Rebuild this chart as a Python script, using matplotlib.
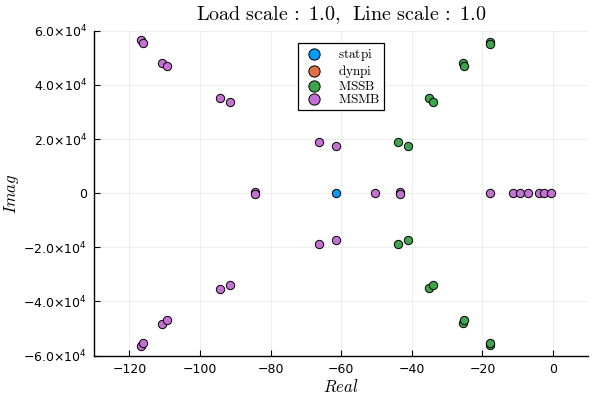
import matplotlib
matplotlib.use("Agg")
import matplotlib.pyplot as plt
from matplotlib.font_manager import FontProperties

# ---- data ----
statpi_re = [-61.5]
statpi_im = [0.0]
dynpi_re = []
dynpi_im = []
mssb_re = [-17.8, -17.8, -25.5, -25.1, -35.0, -34.1, -43.8, -41.0,
           -17.8, -17.8, -25.5, -25.1, -35.0, -34.1, -43.8, -41.0]
mssb_im = [55900, 55200, 47950, 46850, 35100, 33800, 18800, 17450,
           -55900, -55200, -47950, -46850, -35100, -33800, -18800, -17450]
msmb_re = [-116.8, -116.2, -110.8, -109.5, -94.3, -91.5, -66.2, -61.4,
           -116.8, -116.2, -110.8, -109.5, -94.3, -91.5, -66.2, -61.4,
           -84.5, -84.5, -50.4, -43.3, -43.3, -17.8, -11.4, -9.3, -7.2, -3.9, -2.5, -0.6]
msmb_im = [56500, 55400, 48200, 47000, 35300, 33800, 18900, 17450,
           -56500, -55400, -48200, -47000, -35300, -33800, -18900, -17450,
           400, -400, 0, 400, -400, 0, 0, 0, 0, 0, 0, 0]

series_labels = ["statpi", "dynpi", "MSSB", "MSMB"]
series_colors = ["#009AFA", "#E36F47", "#3EA44E", "#C371D2"]

xticks = [-120, -100, -80, -60, -40, -20, 0]
yticks = [-60000, -40000, -20000, 0, 20000, 40000, 60000]
ytick_labels = [r"$-6.0{\times}10^{4}$", r"$-4.0{\times}10^{4}$", r"$-2.0{\times}10^{4}$", "0",
                r"$2.0{\times}10^{4}$", r"$4.0{\times}10^{4}$", r"$6.0{\times}10^{4}$"]

plt.rcParams["mathtext.fontset"] = "dejavusans"
plt.rcParams["axes.unicode_minus"] = True

fig = plt.figure(figsize=(6, 4), dpi=100)
ax = fig.add_axes([0.157, 0.111, 0.8235, 0.812])

data = [(statpi_re, statpi_im), (dynpi_re, dynpi_im), (mssb_re, mssb_im), (msmb_re, msmb_im)]
for (re, im), lab, col in zip(data, series_labels, series_colors):
    ax.scatter(re, im, s=36, c=col, edgecolors="black", linewidths=0.7,
               label=r"$\mathrm{" + lab + "}$", zorder=3)

ax.set_xlim(-130, 10)
ax.set_ylim(-60000, 60000)
ax.set_xticks(xticks)
ax.set_xticklabels([("\u2212" + str(abs(v))) if v < 0 else str(v) for v in xticks])
ax.set_yticks(yticks)
ax.set_yticklabels(ytick_labels)

ax.grid(True, color="black", alpha=0.08, linewidth=0.6)
ax.set_axisbelow(True)
for s in ["top", "right"]:
    ax.spines[s].set_visible(False)
for s in ["left", "bottom"]:
    ax.spines[s].set_linewidth(1.0)
    ax.spines[s].set_color("black")
ax.tick_params(direction="in", length=4, width=0.8, labelsize=9, colors="black", pad=5)

ax.set_title(r"$\mathrm{Load\ scale\,:\ 1.0,\ \,Line\ scale\,:\ 1.0}$",
             fontproperties=FontProperties(size=14.5, math_fontfamily="cm"), pad=8)
ax.set_xlabel(r"$Real$", fontproperties=FontProperties(size=12, math_fontfamily="cm"), labelpad=2)
ax.set_ylabel(r"$Imag$", fontproperties=FontProperties(size=12, math_fontfamily="cm"), labelpad=2)

leg = ax.legend(loc="upper left", bbox_to_anchor=(0.413, 0.963), frameon=True, fancybox=False,
                edgecolor="black", framealpha=1.0, borderpad=0.3, handletextpad=0.9,
                labelspacing=0.0, borderaxespad=0, handlelength=1.8, markerscale=1.35,
                prop=FontProperties(size=9.5, math_fontfamily="cm"))
leg.get_frame().set_linewidth(0.9)

fig.savefig("out.png", dpi=100)
